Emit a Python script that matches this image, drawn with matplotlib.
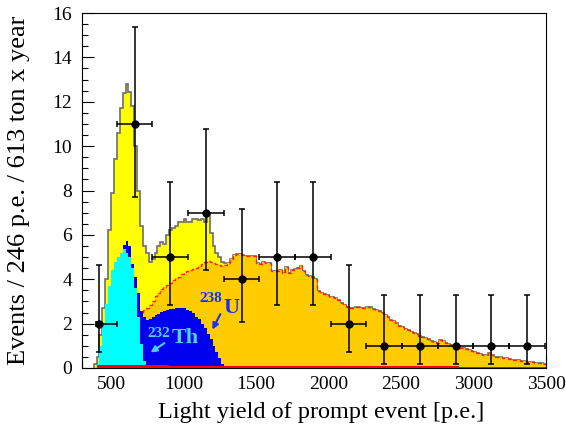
import numpy as np
import matplotlib
matplotlib.use("Agg")
import matplotlib.pyplot as plt
from matplotlib.ticker import MultipleLocator

plt.rcParams['font.family'] = ['Liberation Serif', 'DejaVu Serif']

# Bins of 20 p.e. starting at 380 p.e.
bin_lo = 380
bin_w = 20
edges = np.arange(bin_lo, 3500 + bin_w, bin_w)

# Total fit (geo + reactor + background), read up to 1300 p.e.; above that it follows the reactor curve
total_low = [0.2, 0.5, 1.5, 2.7, 4.0, 6.2, 7.9, 9.4, 10.6, 11.7,
             12.4, 12.8, 12.45, 11.8, 10.0, 8.0, 6.4, 5.5, 5.2, 4.8,
             4.9, 5.2, 5.5, 5.7, 5.6, 6.0, 6.2, 6.3, 6.4, 6.6,
             6.6, 6.7, 6.6, 6.6, 6.7, 6.7, 6.65, 6.7, 6.6, 7.0,
             6.1, 5.5, 5.2, 5.0, 4.8, 4.75]

# Reactor anti-neutrinos
reactor = [0, 0, 0, 0, 0, 0, 0.4, 0.7, 0.9, 1.1,
           1.3, 1.5, 1.7, 1.9, 2.1, 2.3, 2.5, 2.62, 2.72, 2.85,
           3.0, 3.25, 3.4, 3.55, 3.65, 3.75, 3.85, 3.97, 4.05, 4.12,
           4.22, 4.28, 4.35, 4.4, 4.45, 4.52, 4.6, 4.7, 4.78, 4.83,
           4.78, 4.72, 4.7, 4.65, 4.6, 4.62,
           4.75, 4.9, 5.1, 5.14, 5.12, 5.08, 5.05, 5.05, 5.07, 5.07,
           4.72, 4.7, 4.8, 4.75, 4.72, 4.35, 4.35, 4.38, 4.42, 4.3,
           4.54, 4.27, 4.4, 4.45, 4.5, 4.6, 4.35, 4.2, 4.15, 4.1,
           4.0, 3.45, 3.4, 3.34, 3.3, 3.22, 3.18, 3.14, 3.07, 2.95,
           2.85, 2.76, 2.7, 2.69, 2.73, 2.74, 2.7, 2.72, 2.74, 2.73,
           2.65, 2.6, 2.55, 2.5, 2.4, 2.3, 2.16, 2.1, 2.01, 1.9,
           1.86, 1.75, 1.7, 1.64, 1.58, 1.53, 1.45, 1.41, 1.35, 1.3,
           1.23, 1.18, 1.14, 1.26, 1.2, 1.14, 1.08, 1.03, 0.98, 0.95,
           0.88, 0.88, 0.86, 0.81, 0.78, 0.7, 0.66, 0.63, 0.6, 0.58,
           0.66, 0.6, 0.51, 0.5, 0.48, 0.45, 0.43, 0.4, 0.38, 0.36,
           0.34, 0.33, 0.3, 0.28, 0.28, 0.25, 0.24, 0.22, 0.21, 0.18]

# Geo-neutrinos: 238U and 232Th
uranium = [0, 0.15, 0.8, 1.7, 2.7, 3.5, 4.2, 4.6, 4.9, 5.1,
           5.55, 5.72, 5.5, 4.7, 4.1, 3.4, 2.55, 2.3, 2.16, 2.2,
           2.3, 2.4, 2.45, 2.52, 2.58, 2.6, 2.65, 2.68, 2.7, 2.72,
           2.72, 2.7, 2.62, 2.55, 2.46, 2.3, 2.2, 2.0, 1.8, 1.55,
           1.3, 1.0, 0.7, 0.45, 0.2, 0.05]
thorium = [0, 0.2, 1.0, 2.0, 2.9, 3.7, 4.4, 4.8, 5.0, 5.2,
           5.35, 5.2, 5.0, 4.5, 3.6, 2.3, 1.1, 0.3]

# Background
bkg_edges = [400, 900, 1400, 1900, 2400, 2900, 3500]
bkg = [0.12, 0.1, 0.09, 0.08, 0.07, 0.06]

# Data: 246 p.e. bins
data_x = [417, 663, 909, 1155, 1401, 1647, 1893, 2139, 2385, 2631, 2877, 3123, 3369]
data_y = [2, 11, 5, 7, 4, 5, 5, 2, 1, 1, 1, 1, 1]
data_ylo = [0.71, 7.70, 2.84, 4.42, 2.09, 2.84, 2.84, 0.71, 0.17, 0.17, 0.17, 0.17, 0.17]
data_yhi = [4.64, 15.38, 8.38, 10.77, 7.16, 8.38, 8.38, 4.64, 3.30, 3.30, 3.30, 3.30, 3.30]
data_xlo = [20, 123, 123, 123, 123, 123, 123, 123, 123, 123, 123, 123, 123]
data_xhi = [123, 123, 123, 123, 123, 123, 123, 123, 123, 123, 123, 123, 123]

total = np.concatenate([total_low, reactor[len(total_low):]])

fig = plt.figure(figsize=(5.66, 4.28), dpi=100)
ax = fig.add_axes([82/566, 60/428, 464/566, 355/428])

ax.stairs(total, edges, fill=True, color='#ffff00', zorder=1)
ax.stairs(total, edges, color='#6e6e6e', linewidth=1.2, zorder=2)
ax.stairs(reactor, edges, fill=True, color='#ffcc00', zorder=3)
ax.stairs(reactor, edges, color='#ff2200', linewidth=1.0, linestyle=(0, (3, 2)), zorder=4)
ax.stairs(uranium, edges[:len(uranium) + 1], fill=True, color='#0000ee', zorder=5)
ax.stairs(thorium, edges[:len(thorium) + 1], fill=True, color='#00ffff', zorder=6)
ax.stairs(bkg, bkg_edges, fill=True, color='#ff0000', zorder=7)

yerr = [np.array(data_y) - np.array(data_ylo), np.array(data_yhi) - np.array(data_y)]
ax.errorbar(data_x, data_y, xerr=[data_xlo, data_xhi], yerr=yerr, fmt='o', color='black',
            markersize=5, elinewidth=1.1, capsize=2.2, capthick=1.1, zorder=10)

# labels on the geo-neutrino components
ax.text(1107, 2.97, '238', color='#1a2cff', fontsize=11, fontweight='bold', zorder=11)
ax.text(1272, 2.48, 'U', color='#1a2cff', fontsize=16, fontweight='bold', zorder=11)
ax.annotate('', xy=(1190, 1.62), xytext=(1263, 2.54),
            arrowprops=dict(arrowstyle='-|>', color='#1a2cff', lw=1.5, mutation_scale=9), zorder=11)
ax.text(748, 1.40, '232', color='#4fcfff', fontsize=11, fontweight='bold', zorder=11)
ax.text(921, 1.13, 'Th', color='#4fcfff', fontsize=16, fontweight='bold', zorder=11)
ax.annotate('', xy=(757, 0.63), xytext=(884, 1.19),
            arrowprops=dict(arrowstyle='-|>', color='#4fcfff', lw=1.5, mutation_scale=9), zorder=11)

ax.set_xlim(300, 3500)
ax.set_ylim(0, 16)
ax.xaxis.set_major_locator(MultipleLocator(500))
ax.xaxis.set_minor_locator(MultipleLocator(100))
ax.yaxis.set_major_locator(MultipleLocator(2))
ax.yaxis.set_minor_locator(MultipleLocator(0.5))
ax.tick_params(which='both', direction='in', top=False, right=False, width=0.8, labelsize=14)
ax.tick_params(which='major', length=8.5)
ax.tick_params(which='minor', length=4.5)
ax.tick_params(axis='y', pad=7)
ax.tick_params(axis='x', pad=6)
for s in ax.spines.values():
    s.set_linewidth(0.8)

ax.set_xlabel('Light yield of prompt event [p.e.]', fontsize=17.5)
ax.xaxis.set_label_coords(0.515, -0.095)
ax.set_ylabel('Events / 246 p.e. / 613 ton x year', fontsize=19)
ax.yaxis.set_label_coords(-0.112, 0.5)

fig.savefig('out.png', dpi=100)
